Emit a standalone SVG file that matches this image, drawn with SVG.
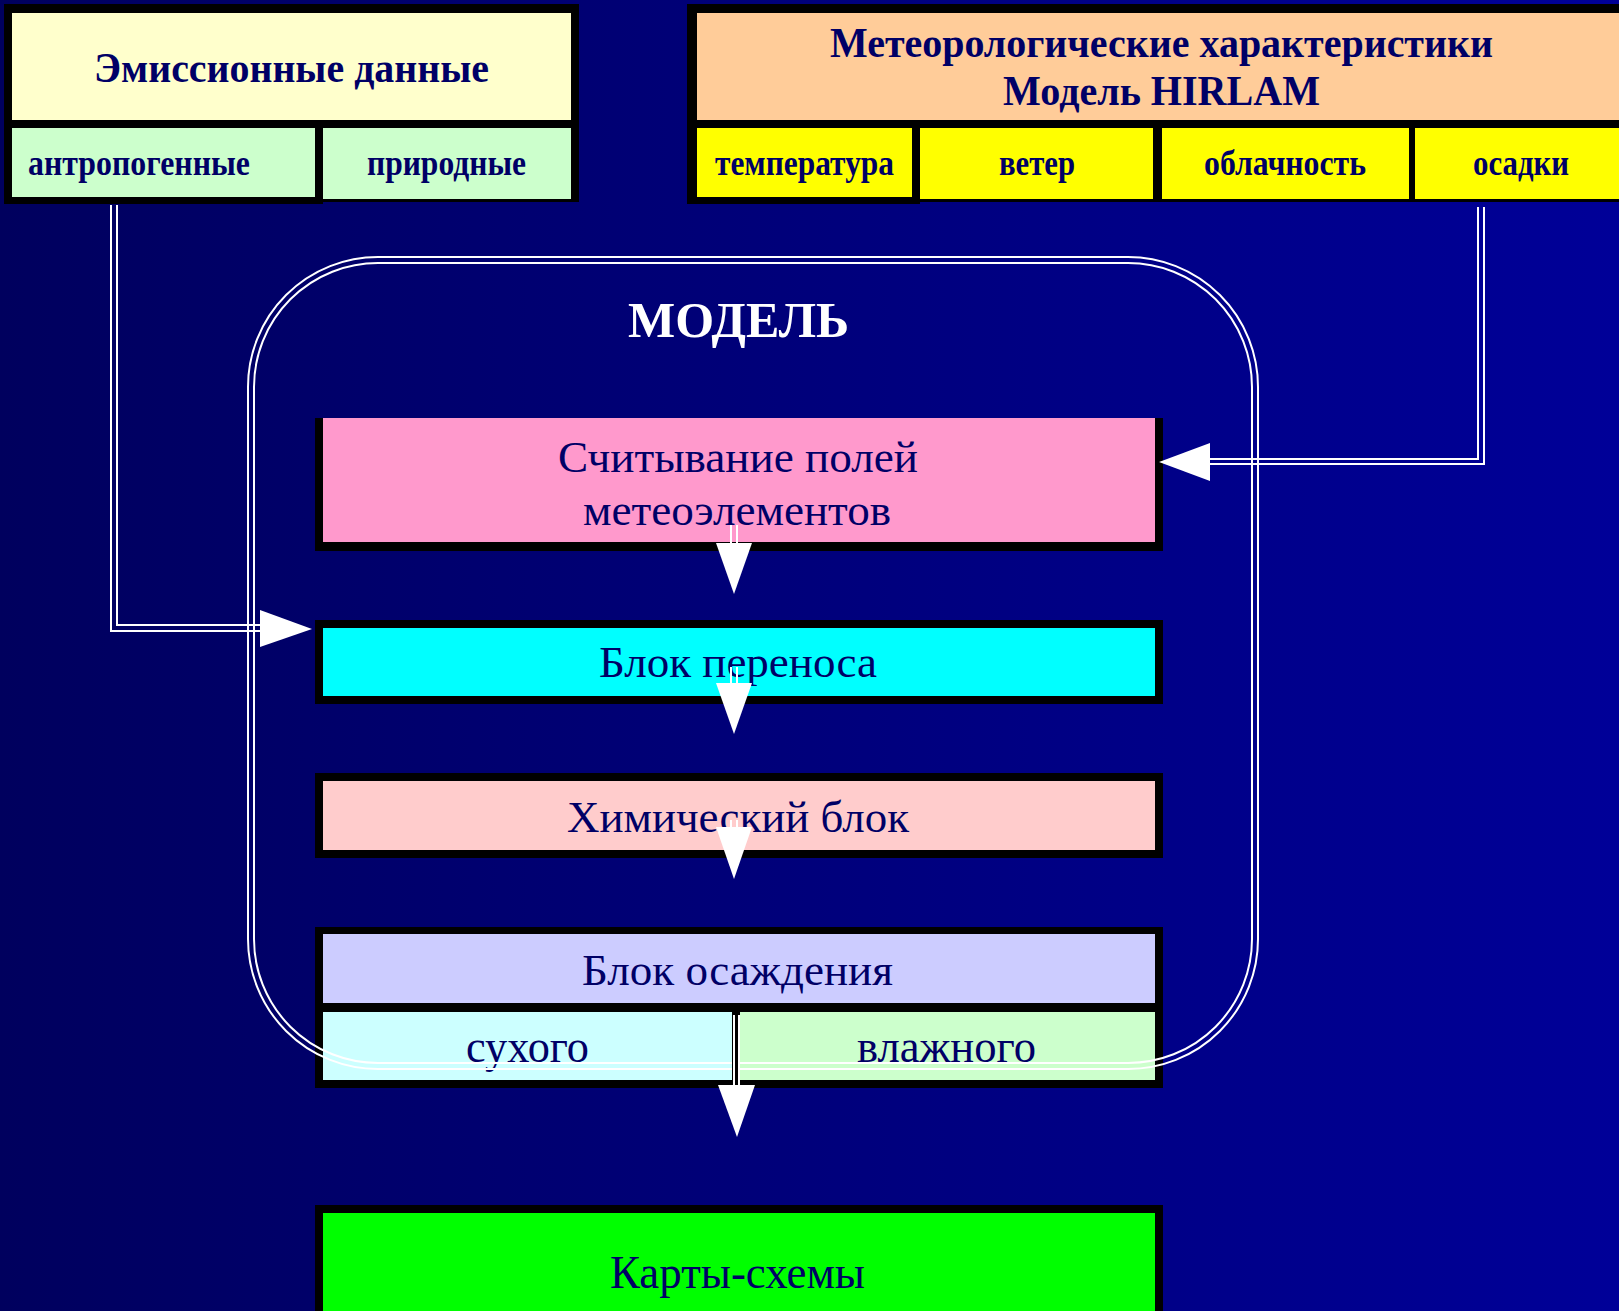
<svg xmlns="http://www.w3.org/2000/svg" width="1619" height="1311" viewBox="0 0 1619 1311">
<defs>
<linearGradient id="bg" gradientUnits="userSpaceOnUse" x1="0" y1="0" x2="1619" y2="0">
<stop offset="0" stop-color="#00005E"/>
<stop offset="1" stop-color="#000098"/>
</linearGradient>
<style>
.blk{fill:#000000}
.t{font-family:"Liberation Serif","Times New Roman",serif;fill:#000066}
.b{font-weight:bold}
.w{fill:none;stroke:#FFFFFF;stroke-width:2}
.head{fill:#FFFFFF}
</style>
</defs>
<rect x="0" y="0" width="1619" height="1311" fill="url(#bg)"/>

<g id="emission">
<rect class="blk" x="4" y="4" width="575" height="198"/>
<rect class="blk" x="4" y="196" width="319" height="8"/>
<rect x="12" y="13" width="559" height="107" fill="#FFFFCC"/>
<text class="t b" x="94" y="82" font-size="42" textLength="395" lengthAdjust="spacingAndGlyphs">Эмиссионные данные</text>
<g id="emission-anthro">
<rect x="12" y="128" width="303" height="69" fill="#CCFFCC"/>
<text class="t b" x="28" y="175" font-size="36" textLength="222" lengthAdjust="spacingAndGlyphs">антропогенные</text>
</g>
<g id="emission-natural">
<rect x="323" y="128" width="248" height="71" fill="#CCFFCC"/>
<text class="t b" x="367" y="175" font-size="36" textLength="159" lengthAdjust="spacingAndGlyphs">природные</text>
</g>
</g>

<g id="meteo">
<rect class="blk" x="687" y="4" width="932" height="198"/>
<rect class="blk" x="687" y="196" width="233" height="8"/>
<rect x="697" y="13" width="922" height="107" fill="#FFCC99"/>
<text class="t b" x="830" y="57" font-size="42" textLength="663" lengthAdjust="spacingAndGlyphs">Метеорологические характеристики</text>
<text class="t b" x="1003" y="105" font-size="42" textLength="317" lengthAdjust="spacingAndGlyphs">Модель HIRLAM</text>
<g id="meteo-temp">
<rect x="697" y="128" width="215" height="69" fill="#FFFF00"/>
<text class="t b" x="715" y="175" font-size="36" textLength="179" lengthAdjust="spacingAndGlyphs">температура</text>
</g>
<g id="meteo-wind">
<rect x="920" y="128" width="233" height="71" fill="#FFFF00"/>
<text class="t b" x="999" y="175" font-size="36" textLength="76" lengthAdjust="spacingAndGlyphs">ветер</text>
</g>
<g id="meteo-cloud">
<rect x="1162" y="128" width="247" height="71" fill="#FFFF00"/>
<text class="t b" x="1204" y="175" font-size="36" textLength="162" lengthAdjust="spacingAndGlyphs">облачность</text>
</g>
<g id="meteo-precip">
<rect x="1415" y="128" width="204" height="71" fill="#FFFF00"/>
<text class="t b" x="1473" y="175" font-size="36" textLength="96" lengthAdjust="spacingAndGlyphs">осадки</text>
</g>
</g>

<g id="read-fields">
<rect class="blk" x="315" y="418" width="848" height="133"/>
<rect x="323" y="418" width="832" height="124" fill="#FF99CC"/>
<text class="t" x="558" y="472" font-size="45" textLength="360" lengthAdjust="spacingAndGlyphs">Считывание полей</text>
<text class="t" x="583" y="525" font-size="45" textLength="308" lengthAdjust="spacingAndGlyphs">метеоэлементов</text>
</g>

<g id="transport">
<rect class="blk" x="315" y="620" width="848" height="84"/>
<rect x="323" y="628" width="832" height="68" fill="#00FFFF"/>
<text class="t" x="599" y="677" font-size="45" textLength="278" lengthAdjust="spacingAndGlyphs">Блок переноса</text>
</g>

<g id="chemistry">
<rect class="blk" x="315" y="773" width="848" height="85"/>
<rect x="323" y="781" width="832" height="69" fill="#FFCCCC"/>
<text class="t" x="567" y="832" font-size="45" textLength="342" lengthAdjust="spacingAndGlyphs">Химический блок</text>
</g>

<g id="deposition">
<rect class="blk" x="315" y="927" width="848" height="161"/>
<rect x="323" y="934" width="832" height="69" fill="#CCCCFF"/>
<text class="t" x="582" y="985" font-size="45" textLength="311" lengthAdjust="spacingAndGlyphs">Блок осаждения</text>
<g id="deposition-dry">
<rect x="323" y="1012" width="409" height="68" fill="#CCFFFF"/>
<text class="t" x="466" y="1062" font-size="46" textLength="123" lengthAdjust="spacingAndGlyphs">сухого</text>
</g>
<g id="deposition-wet">
<rect x="740" y="1012" width="415" height="68" fill="#CCFFCC"/>
<text class="t" x="857" y="1062" font-size="46" textLength="179" lengthAdjust="spacingAndGlyphs">влажного</text>
</g>
</g>

<g id="maps">
<rect class="blk" x="315" y="1205" width="848" height="110"/>
<rect x="323" y="1213" width="832" height="100" fill="#00FF00"/>
<text class="t" x="610" y="1288" font-size="46" textLength="255" lengthAdjust="spacingAndGlyphs">Карты-схемы</text>
</g>

<g id="model">
<rect class="w" x="248" y="257" width="1010" height="812" rx="130" ry="130"/>
<rect class="w" x="254" y="263" width="998" height="800" rx="124" ry="124"/>
<text x="628" y="337" font-family="'Liberation Serif','Times New Roman',serif" font-weight="bold" font-size="51" fill="#FFFFFF" textLength="221" lengthAdjust="spacingAndGlyphs">МОДЕЛЬ</text>
</g>

<g id="connectors">
<polyline class="w" points="111,205 111,631 262,631"/>
<polyline class="w" points="117,205 117,625 262,625"/>
<polygon class="head" points="260,610 312,629 260,647"/>
<polyline class="w" points="1484,207 1484,464 1208,464"/>
<polyline class="w" points="1478,207 1478,459 1208,459"/>
<polygon class="head" points="1210,443 1159,462 1210,481"/>
<line class="w" x1="731" y1="525" x2="731" y2="545"/>
<line class="w" x1="737" y1="525" x2="737" y2="545"/>
<polygon class="head" points="716,543 752,543 734,594"/>
<line class="w" x1="731" y1="667" x2="731" y2="685"/>
<line class="w" x1="737" y1="667" x2="737" y2="685"/>
<polygon class="head" points="716,683 752,683 734,734"/>
<line class="w" x1="731" y1="820" x2="731" y2="829"/>
<line class="w" x1="737" y1="820" x2="737" y2="829"/>
<polygon class="head" points="716,827 752,827 734,879"/>
<rect class="blk" x="732" y="1003" width="8" height="85"/>
<line class="w" x1="734" y1="1015" x2="734" y2="1087"/>
<line class="w" x1="739" y1="1015" x2="739" y2="1087"/>
<polygon class="head" points="718,1085 755,1085 737,1137"/>
</g>
</svg>
